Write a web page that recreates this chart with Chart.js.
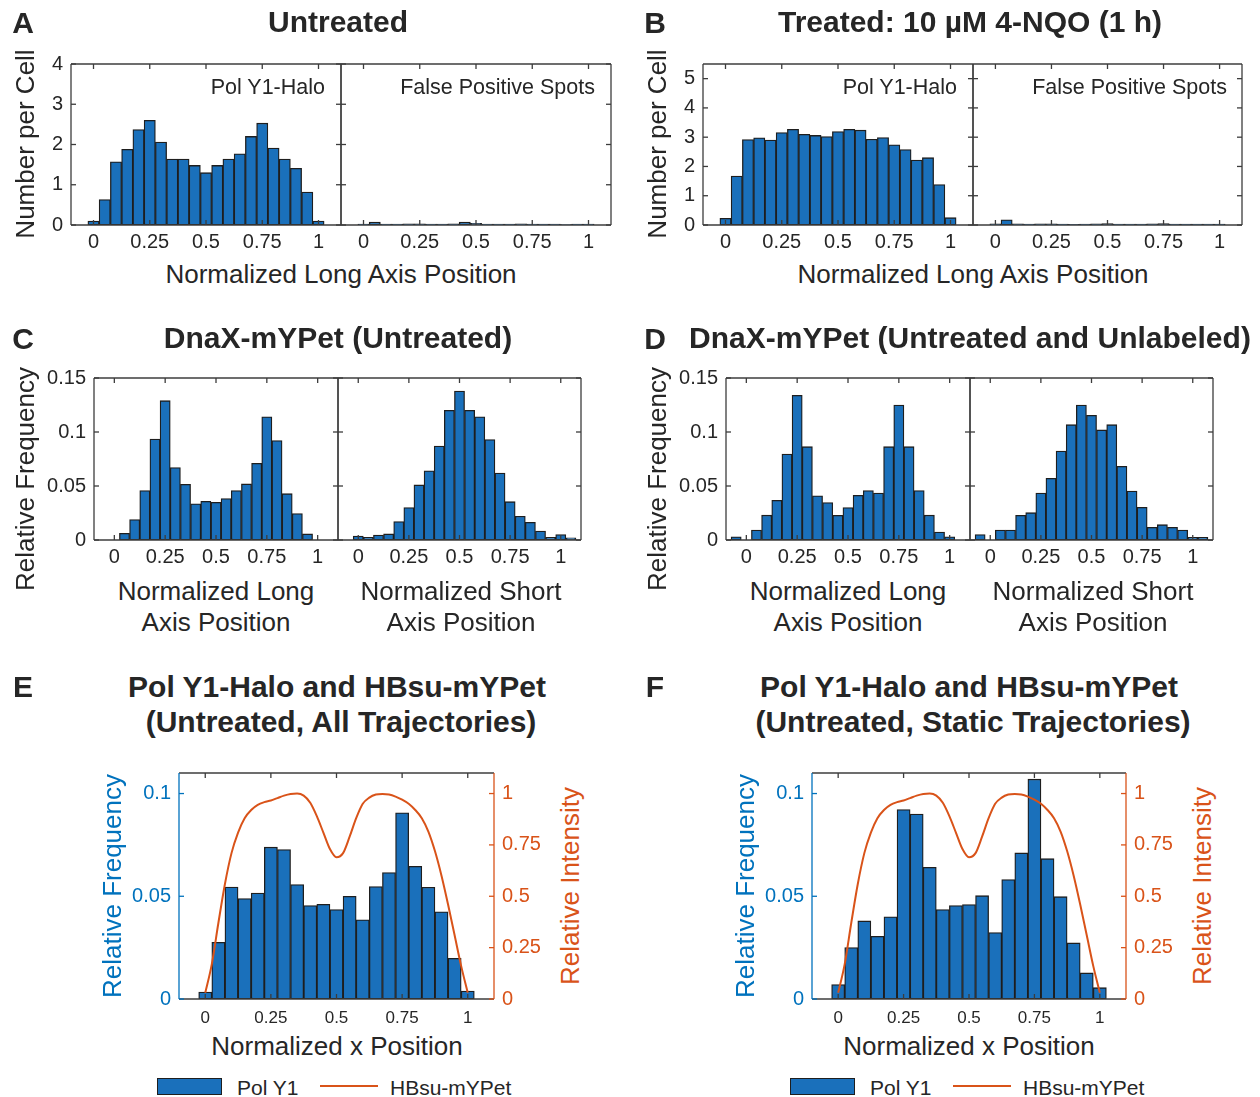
<!DOCTYPE html>
<html>
<head>
<meta charset="utf-8">
<script src="https://cdn.jsdelivr.net/npm/chart.js@4.4.1/dist/chart.umd.min.js"></script>
<style>
  body { margin: 0; background: #fff; }
  #fig { position: relative; width: 1260px; height: 1097px; overflow: hidden;
         font-family: 'Liberation Sans', Arial, Helvetica, sans-serif; color: #262626; }
  #fig canvas { position: absolute; }
  .t { position: absolute; white-space: nowrap; line-height: 1; }
</style>
</head>
<body>
<div id="fig"></div>
<script>
const FONT = "'Liberation Sans', Arial, Helvetica, sans-serif";
const INK = '#262626';
const FRAME = '#3c3c3c';
const BAR_BLUE = '#1a70bb';
const BAR_EDGE = '#1e1e1e';
const AXIS_BLUE = '#0072bd';
const ORANGE = '#d95319';

// shared x ticks (normalized position)
const xTickValues = [0, 0.25, 0.5, 0.75, 1];

// A / B: spots per cell along the long axis
const binsFull = [0, 0.05, 0.1, 0.15, 0.2, 0.25, 0.3, 0.35, 0.4, 0.45, 0.5,
                  0.55, 0.6, 0.65, 0.7, 0.75, 0.8, 0.85, 0.9, 0.95, 1];
const polUntreated = [0.1, 0.63, 1.57, 1.88, 2.37, 2.6, 2.06, 1.64, 1.64, 1.48, 1.3,
                      1.48, 1.64, 1.77, 2.2, 2.53, 1.91, 1.64, 1.41, 0.82, 0.1];
const fpUntreated = [0.02, 0.07, 0.02, 0.02, 0.03, 0.03, 0.02, 0.02, 0.03, 0.07, 0.04,
                     0.02, 0.02, 0.02, 0.03, 0.02, 0.02, 0.02, 0.01, 0.02, 0.02];
const polTreated = [0.23, 1.67, 2.92, 2.98, 2.9, 3.16, 3.27, 3.1, 3.06, 3.02, 3.19,
                    3.27, 3.24, 2.93, 2.99, 2.74, 2.58, 2.22, 2.3, 1.38, 0.25];
const fpTreated = [0.04, 0.18, 0.04, 0.03, 0.04, 0.04, 0.03, 0.02, 0.03, 0.04, 0.05,
                   0.03, 0.03, 0.03, 0.04, 0.05, 0.03, 0.03, 0.03, 0.03, 0.03];
const countTicksA = [0, 1, 2, 3, 4];
const countTicksB = [0, 1, 2, 3, 4, 5];

// C: DnaX-mYPet, untreated
const binsCLong = [0.05, 0.1, 0.15, 0.2, 0.25, 0.3, 0.35, 0.4, 0.45, 0.5,
                   0.55, 0.6, 0.65, 0.7, 0.75, 0.8, 0.85, 0.9, 0.95];
const dnaxLong = [0.0062, 0.019, 0.0457, 0.0935, 0.129, 0.067, 0.0515, 0.0336, 0.0358, 0.0349,
                  0.0383, 0.0457, 0.0519, 0.071, 0.114, 0.092, 0.0429, 0.0244, 0.0056];
const binsCShort = [0, 0.05, 0.1, 0.15, 0.2, 0.25, 0.3, 0.35, 0.4, 0.45, 0.5,
                    0.55, 0.6, 0.65, 0.7, 0.75, 0.8, 0.85, 0.9, 0.95, 1, 1.05];
const dnaxShort = [0.0037, 0.0025, 0.0046, 0.0056, 0.017, 0.03, 0.051, 0.064, 0.087, 0.12, 0.138,
                   0.12, 0.114, 0.093, 0.062, 0.0355, 0.022, 0.0164, 0.0083, 0.0025, 0.005, 0.002];

// D: DnaX-mYPet, untreated and unlabeled
const binsDLong = [-0.05, 0, 0.05, 0.1, 0.15, 0.2, 0.25, 0.3, 0.35, 0.4, 0.45, 0.5,
                   0.55, 0.6, 0.65, 0.7, 0.75, 0.8, 0.85, 0.9, 0.95, 1];
const unlabLong = [0.003, 0, 0.0093, 0.023, 0.0367, 0.0796, 0.134, 0.0864, 0.041, 0.0346, 0.0228, 0.03,
                   0.0414, 0.0457, 0.0435, 0.0864, 0.125, 0.0864, 0.0457, 0.023, 0.0074, 0.003];
const binsDShort = [-0.05, 0, 0.05, 0.1, 0.15, 0.2, 0.25, 0.3, 0.35, 0.4, 0.45, 0.5,
                    0.55, 0.6, 0.65, 0.7, 0.75, 0.8, 0.85, 0.9, 0.95, 1, 1.05];
const unlabShort = [0.005, 0, 0.0093, 0.0093, 0.0228, 0.0253, 0.0435, 0.0571, 0.0824, 0.1068, 0.125, 0.1154,
                    0.1019, 0.1068, 0.0682, 0.0454, 0.0302, 0.0117, 0.0142, 0.0117, 0.0093, 0.0025, 0.0025];
const freqTicks = [0, 0.05, 0.1, 0.15];

// E / F: Pol Y1 positions vs HBsu-mYPet intensity profile
const polAll = [0.0034, 0.0276, 0.0545, 0.0489, 0.0516, 0.0739, 0.0727, 0.0557, 0.0455, 0.0461, 0.0435,
                0.05, 0.0385, 0.0547, 0.0615, 0.0906, 0.0646, 0.0544, 0.0424, 0.0198, 0.0039];
const polStatic = [0.007, 0.025, 0.038, 0.0305, 0.04, 0.0922, 0.09, 0.0641, 0.0435, 0.0455, 0.046,
                   0.0503, 0.0323, 0.0581, 0.0711, 0.107, 0.0683, 0.0498, 0.0273, 0.0127, 0.0055];
const hbsuX = [0, 0.025, 0.05, 0.075, 0.1, 0.125, 0.15, 0.175, 0.2, 0.225, 0.25, 0.275, 0.3, 0.325,
               0.35, 0.375, 0.4, 0.425, 0.45, 0.475, 0.5, 0.525, 0.55, 0.575, 0.6, 0.625, 0.65,
               0.675, 0.7, 0.725, 0.75, 0.775, 0.8, 0.825, 0.85, 0.875, 0.9, 0.925, 0.95, 0.975, 1];
const hbsuIntensity = [0.03, 0.17, 0.37, 0.56, 0.71, 0.81, 0.88, 0.92, 0.945, 0.958, 0.966, 0.978, 0.99, 0.998,
                       1.0, 0.99, 0.955, 0.89, 0.81, 0.73, 0.69, 0.71, 0.79, 0.88, 0.95, 0.98, 0.995,
                       0.998, 0.995, 0.985, 0.97, 0.95, 0.92, 0.88, 0.815, 0.72, 0.6, 0.46, 0.31, 0.16, 0.03];
const freqTicksEF = [0, 0.05, 0.1];
const intensityTicks = [0, 0.25, 0.5, 0.75, 1];

const fig = document.getElementById('fig');

// box with inward ticks on all four sides
const axesBox = {
  id: 'axesBox',
  afterDatasetsDraw(chart, args, opts) {
    const { ctx, chartArea: a, scales } = chart;
    const len = 5;
    const leftC = opts.left || FRAME, rightC = opts.right || FRAME;
    const seg = (x1, y1, x2, y2, c) => {
      ctx.strokeStyle = c; ctx.beginPath(); ctx.moveTo(x1, y1); ctx.lineTo(x2, y2); ctx.stroke();
    };
    ctx.save();
    ctx.lineWidth = 1.3;
    seg(a.left, a.bottom, a.right, a.bottom, FRAME);
    seg(a.left, a.top, a.right, a.top, FRAME);
    seg(a.left, a.top, a.left, a.bottom, leftC);
    seg(a.right, a.top, a.right, a.bottom, rightC);
    scales.x.ticks.forEach(t => {
      const px = scales.x.getPixelForValue(t.value);
      seg(px, a.bottom, px, a.bottom - len, FRAME);
      seg(px, a.top, px, a.top + len, FRAME);
    });
    scales.y.ticks.forEach(t => {
      const py = scales.y.getPixelForValue(t.value);
      seg(a.left, py, a.left + len, py, leftC);
      if (!scales.y2) seg(a.right, py, a.right - len, py, FRAME);
    });
    if (scales.y2) {
      scales.y2.ticks.forEach(t => {
        const py = scales.y2.getPixelForValue(t.value);
        seg(a.right, py, a.right - len, py, rightC);
      });
    }
    ctx.restore();
  }
};

function fixedTicks(values) {
  return s => { s.ticks = values.map(v => ({ value: v })); };
}

function barSet(centers, values, order) {
  return {
    type: 'bar',
    data: centers.map((x, i) => ({ x: x, y: values[i] })),
    backgroundColor: BAR_BLUE,
    borderColor: BAR_EDGE,
    borderWidth: 1.3,
    borderSkipped: false,
    barPercentage: 1,
    categoryPercentage: 1,
    order: order || 0
  };
}

// one axes: box = plot area in page pixels
function addChart(box, cfg) {
  const padL = cfg.padL, padR = cfg.padR, padT = 30, padB = cfg.padB;
  const w = box.r - box.l + padL + padR;
  const h = box.b - box.t + padT + padB;
  const cv = document.createElement('canvas');
  cv.width = w; cv.height = h;
  cv.style.left = (box.l - padL) + 'px';
  cv.style.top = (box.t - padT) + 'px';
  cv.style.width = w + 'px';
  cv.style.height = h + 'px';
  fig.appendChild(cv);

  const scales = {
    x: {
      type: 'linear', min: -0.1, max: 1.1, offset: false,
      grid: { display: false, drawTicks: false }, border: { display: false },
      afterBuildTicks: fixedTicks(xTickValues),
      afterFit: s => { s.height = padB; },
      ticks: { padding: cfg.xPad, color: INK, font: { family: FONT, size: cfg.xFont },
               maxRotation: 0, autoSkip: false, callback: v => String(v) }
    },
    y: {
      type: 'linear', position: 'left', min: 0, max: cfg.yMax,
      grid: { display: false, drawTicks: false }, border: { display: false },
      afterBuildTicks: fixedTicks(cfg.yTicks),
      afterFit: s => { s.width = padL; },
      ticks: { display: cfg.showY, padding: 8, color: cfg.yColor || INK,
               font: { family: FONT, size: 20 }, callback: v => String(v) }
    }
  };
  if (cfg.y2) {
    scales.y2 = {
      type: 'linear', position: 'right', min: 0, max: 1.1,
      grid: { display: false, drawTicks: false }, border: { display: false },
      afterBuildTicks: fixedTicks(intensityTicks),
      afterFit: s => { s.width = padR; },
      ticks: { padding: 8, color: ORANGE, font: { family: FONT, size: 20 }, callback: v => String(v) }
    };
  }

  new Chart(cv, {
    type: 'bar',
    data: { datasets: cfg.datasets },
    options: {
      responsive: false, animation: false, devicePixelRatio: 1,
      layout: { padding: { top: padT, right: cfg.y2 ? 0 : padR, left: 0, bottom: 0 } },
      plugins: {
        legend: { display: false }, tooltip: { enabled: false },
        axesBox: { left: cfg.leftColor, right: cfg.rightColor }
      },
      scales: scales
    },
    plugins: [axesBox]
  });
}

// A / B / C / D: two side-by-side axes
function pairPanel(leftBox, rightBox, yMax, yTicks, leftSet, rightSet) {
  addChart(leftBox, { padL: 60, padR: 6, padB: 34, xPad: 5, xFont: 20, yMax, yTicks, showY: true,
                      datasets: [leftSet] });
  addChart(rightBox, { padL: 6, padR: 6, padB: 34, xPad: 5, xFont: 20, yMax, yTicks, showY: false,
                       datasets: [rightSet] });
}

pairPanel({ l: 71, r: 341, t: 64, b: 225 }, { l: 341, r: 611, t: 64, b: 225 }, 4, countTicksA,
          barSet(binsFull, polUntreated), barSet(binsFull, fpUntreated));
pairPanel({ l: 703, r: 973, t: 64, b: 225 }, { l: 973, r: 1242, t: 64, b: 225 }, 5.5, countTicksB,
          barSet(binsFull, polTreated), barSet(binsFull, fpTreated));
pairPanel({ l: 94, r: 338, t: 378, b: 540 }, { l: 338, r: 581, t: 378, b: 540 }, 0.15, freqTicks,
          barSet(binsCLong, dnaxLong), barSet(binsCShort, dnaxShort));
pairPanel({ l: 726, r: 970, t: 378, b: 540 }, { l: 970, r: 1213, t: 378, b: 540 }, 0.15, freqTicks,
          barSet(binsDLong, unlabLong), barSet(binsDShort, unlabShort));

// E / F: histogram on the left axis, intensity profile on the right axis
function dualPanel(box, values) {
  const profile = {
    type: 'line',
    data: hbsuX.map((x, i) => ({ x: x, y: hbsuIntensity[i] })),
    yAxisID: 'y2',
    borderColor: ORANGE,
    borderWidth: 2,
    pointRadius: 0,
    cubicInterpolationMode: 'monotone',
    order: 0
  };
  addChart(box, { padL: 60, padR: 60, padB: 32, xPad: 9, xFont: 17, yMax: 0.11, yTicks: freqTicksEF,
                  showY: true, yColor: AXIS_BLUE, y2: true, leftColor: AXIS_BLUE, rightColor: ORANGE,
                  datasets: [profile, barSet(binsFull, values, 1)] });
}
dualPanel({ l: 179, r: 494, t: 773, b: 999 }, polAll);
dualPanel({ l: 812, r: 1126, t: 773, b: 999 }, polStatic);

// text
function text(str, x, y, o) {
  o = o || {};
  const d = document.createElement('div');
  d.className = 't';
  d.textContent = str;
  d.style.left = x + 'px';
  d.style.top = y + 'px';
  d.style.fontSize = (o.size || 26) + 'px';
  if (o.bold) d.style.fontWeight = 'bold';
  if (o.color) d.style.color = o.color;
  const ax = o.anchor === 'left' ? '0' : o.anchor === 'right' ? '-100%' : '-50%';
  d.style.transform = `translate(${ax}, -50%)` + (o.rotate ? ' rotate(-90deg)' : '');
  fig.appendChild(d);
}

[['A', 23, 23], ['B', 655, 23], ['C', 23, 339], ['D', 655, 339], ['E', 23, 687], ['F', 655, 687]]
  .forEach(([s, x, y]) => text(s, x, y, { size: 30, bold: true }));

text('Untreated', 338, 22, { size: 30, bold: true });
text('Treated: 10 µM 4-NQO (1 h)', 970, 22, { size: 30, bold: true });
text('DnaX-mYPet (Untreated)', 338, 338, { size: 30, bold: true });
text('DnaX-mYPet (Untreated and Unlabeled)', 970, 338, { size: 30, bold: true });
text('Pol Y1-Halo and HBsu-mYPet', 337, 687, { size: 30, bold: true });
text('(Untreated, All Trajectories)', 341, 722, { size: 30, bold: true });
text('Pol Y1-Halo and HBsu-mYPet', 969, 687, { size: 30, bold: true });
text('(Untreated, Static Trajectories)', 973, 722, { size: 30, bold: true });

text('Number per Cell', 25, 144, { rotate: true });
text('Number per Cell', 657, 144, { rotate: true });
text('Relative Frequency', 25, 479, { rotate: true });
text('Relative Frequency', 657, 479, { rotate: true });
text('Relative Frequency', 112, 886, { rotate: true, color: AXIS_BLUE });
text('Relative Intensity', 570, 886, { rotate: true, color: ORANGE });
text('Relative Frequency', 745, 886, { rotate: true, color: AXIS_BLUE });
text('Relative Intensity', 1202, 886, { rotate: true, color: ORANGE });

text('Normalized Long Axis Position', 341, 274);
text('Normalized Long Axis Position', 973, 274);
[[216, 'Long'], [461, 'Short'], [848, 'Long'], [1093, 'Short']].forEach(([x, w]) => {
  text('Normalized ' + w, x, 591);
  text('Axis Position', x, 622);
});
text('Normalized x Position', 337, 1046);
text('Normalized x Position', 969, 1046);

text('Pol Y1-Halo', 325, 88, { size: 21.5, anchor: 'right' });
text('False Positive Spots', 595, 88, { size: 21.5, anchor: 'right' });
text('Pol Y1-Halo', 957, 88, { size: 21.5, anchor: 'right' });
text('False Positive Spots', 1227, 88, { size: 21.5, anchor: 'right' });

// legends under E and F
function legend(x0) {
  const sw = document.createElement('div');
  sw.style.cssText = `position:absolute;left:${x0}px;top:1078px;width:65px;height:17px;box-sizing:border-box;` +
                     `background:${BAR_BLUE};border:1.5px solid ${BAR_EDGE};`;
  fig.appendChild(sw);
  text('Pol Y1', x0 + 80, 1087, { size: 21, anchor: 'left' });
  const ln = document.createElement('div');
  ln.style.cssText = `position:absolute;left:${x0 + 163}px;top:1085px;width:58px;height:2px;background:${ORANGE};`;
  fig.appendChild(ln);
  text('HBsu-mYPet', x0 + 233, 1087, { size: 21, anchor: 'left' });
}
legend(157);
legend(790);
</script>
</body>
</html>
